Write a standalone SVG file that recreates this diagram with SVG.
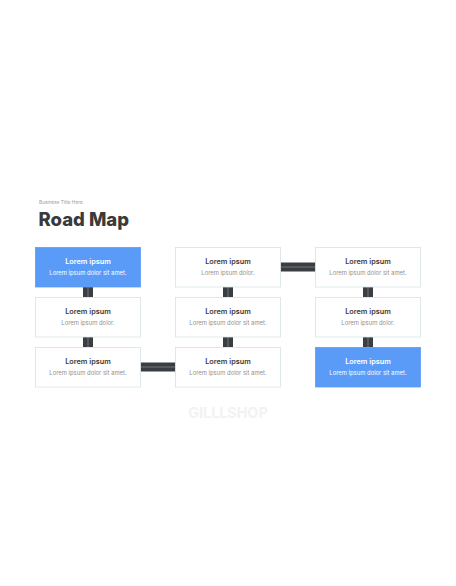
<svg xmlns="http://www.w3.org/2000/svg" width="456" height="586" viewBox="0 0 456 586">
<style>
.box{fill:#ffffff;stroke:#d6e3e6;stroke-width:0.8}
.blue{fill:#5b9bf8;stroke:#5b9bf8;stroke-width:0.8}
.h{font-family:Inter,"Open Sans",sans-serif;font-weight:600;font-size:7.3px;fill:#3a3a3a;text-anchor:middle}
.s{font-family:Inter,"Open Sans",sans-serif;font-size:5.9px;fill:#8f8f8f;text-anchor:middle}
.blue-t .h,.blue-t .s{fill:#ffffff}
.c{fill:#3a3d42}
.cl{stroke:#9a9ea3;stroke-width:0.6}
</style>
<rect width="456" height="586" fill="#ffffff"/>
<text x="39" y="203.5" font-family="Inter,'Open Sans',sans-serif" font-size="4.8" fill="#9a9a9a">Business Title Here</text>
<text x="38.5" y="226" font-family="Inter,'Open Sans',sans-serif" font-weight="800" font-size="18.5" fill="#3a3a3a">Road Map</text>
<text x="228" y="418.3" font-family="Inter,'Open Sans',sans-serif" font-weight="700" font-size="14.3" fill="#f2f2f2" text-anchor="middle">GILLLSHOP</text>
<g id="connectors">
<rect class="c" x="83" y="287" width="10" height="10"/><line class="cl" x1="88" y1="287" x2="88" y2="297"/>
<rect class="c" x="83" y="337" width="10" height="10"/><line class="cl" x1="88" y1="337" x2="88" y2="347"/>
<rect class="c" x="223" y="287" width="10" height="10"/><line class="cl" x1="228" y1="287" x2="228" y2="297"/>
<rect class="c" x="223" y="337" width="10" height="10"/><line class="cl" x1="228" y1="337" x2="228" y2="347"/>
<rect class="c" x="363" y="287" width="10" height="10"/><line class="cl" x1="368" y1="287" x2="368" y2="297"/>
<rect class="c" x="363" y="337" width="10" height="10"/><line class="cl" x1="368" y1="337" x2="368" y2="347"/>
<rect class="c" x="280.5" y="262.5" width="35" height="9"/><line class="cl" x1="280.5" y1="267" x2="315.5" y2="267"/>
<rect class="c" x="140.5" y="362.5" width="35" height="9"/><line class="cl" x1="140.5" y1="367" x2="175.5" y2="367"/>
</g>
<g id="n1" class="blue-t"><rect class="blue" x="35.5" y="247.5" width="105" height="39.5"/><text class="h" x="88" y="263.5">Lorem ipsum</text><text class="s" x="88" y="274.5">Lorem ipsum dolor sit amet.</text></g>
<g id="n2"><rect class="box" x="35.5" y="297.5" width="105" height="39.5"/><text class="h" x="88" y="313.5">Lorem ipsum</text><text class="s" x="88" y="324.5">Lorem ipsum dolor.</text></g>
<g id="n3"><rect class="box" x="35.5" y="347.5" width="105" height="39.5"/><text class="h" x="88" y="363.5">Lorem ipsum</text><text class="s" x="88" y="374.5">Lorem ipsum dolor sit amet.</text></g>
<g id="n4"><rect class="box" x="175.5" y="247.5" width="105" height="39.5"/><text class="h" x="228" y="263.5">Lorem ipsum</text><text class="s" x="228" y="274.5">Lorem ipsum dolor.</text></g>
<g id="n5"><rect class="box" x="175.5" y="297.5" width="105" height="39.5"/><text class="h" x="228" y="313.5">Lorem ipsum</text><text class="s" x="228" y="324.5">Lorem ipsum dolor sit amet.</text></g>
<g id="n6"><rect class="box" x="175.5" y="347.5" width="105" height="39.5"/><text class="h" x="228" y="363.5">Lorem ipsum</text><text class="s" x="228" y="374.5">Lorem ipsum dolor sit amet.</text></g>
<g id="n7"><rect class="box" x="315.5" y="247.5" width="105" height="39.5"/><text class="h" x="368" y="263.5">Lorem ipsum</text><text class="s" x="368" y="274.5">Lorem ipsum dolor sit amet.</text></g>
<g id="n8"><rect class="box" x="315.5" y="297.5" width="105" height="39.5"/><text class="h" x="368" y="313.5">Lorem ipsum</text><text class="s" x="368" y="324.5">Lorem ipsum dolor.</text></g>
<g id="n9" class="blue-t"><rect class="blue" x="315.5" y="347.5" width="105" height="39.5"/><text class="h" x="368" y="363.5">Lorem ipsum</text><text class="s" x="368" y="374.5">Lorem ipsum dolor sit amet.</text></g>
</svg>
